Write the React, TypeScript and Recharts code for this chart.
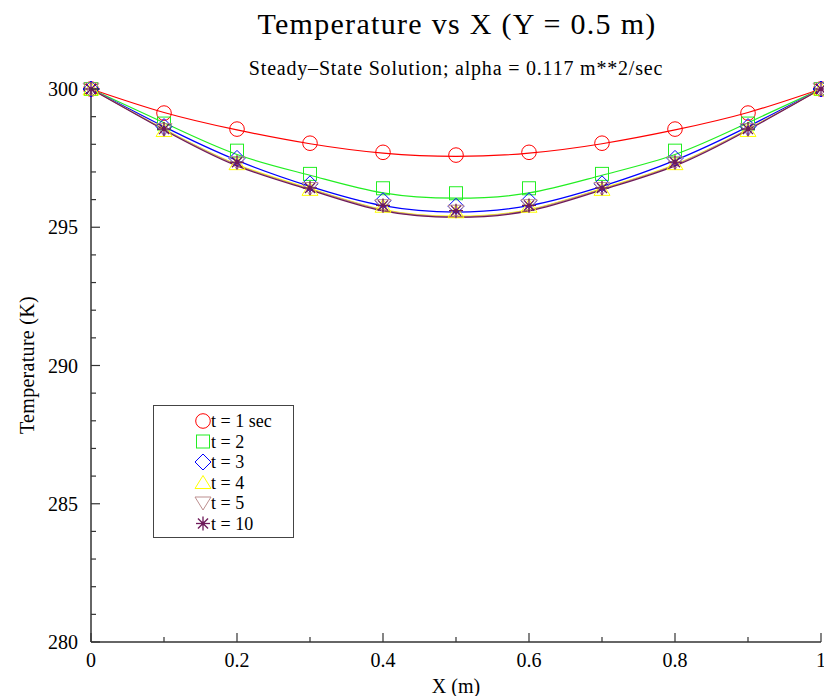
import React from 'react';
import { ComposedChart, Line, Scatter, XAxis, YAxis, Legend } from 'recharts';

const FONT = '"Liberation Serif", "Times New Roman", serif';

const xs = [0, 0.1, 0.2, 0.3, 0.4, 0.5, 0.6, 0.7, 0.8, 0.9, 1];
const seriesLabels = ['t = 1 sec', 't = 2', 't = 3', 't = 4', 't = 5', 't = 10'];

// marker (numerical) values
const markT1 = [300, 299.13, 298.55, 298.04, 297.71, 297.61, 297.71, 298.04, 298.55, 299.13, 300];
const markT2 = [300, 298.75, 297.77, 296.93, 296.41, 296.23, 296.41, 296.93, 297.77, 298.75, 300];
const markT3 = [300, 298.64, 297.49, 296.57, 295.96, 295.76, 295.96, 296.57, 297.49, 298.64, 300];
const markT4 = [300, 298.5, 297.3, 296.37, 295.76, 295.56, 295.76, 296.37, 297.3, 298.5, 300];
const markT5 = [300, 298.53, 297.33, 296.4, 295.78, 295.58, 295.78, 296.4, 297.33, 298.53, 300];
const markT10 = [300, 298.55, 297.35, 296.42, 295.79, 295.6, 295.79, 296.42, 297.35, 298.55, 300];

// curve values
const lineT1 = [300, 299.15, 298.52, 298.02, 297.68, 297.56, 297.68, 298.02, 298.52, 299.15, 300];
const lineT2 = [300, 298.78, 297.63, 296.88, 296.24, 296.05, 296.24, 296.88, 297.63, 298.78, 300];
const lineT3 = [300, 298.64, 297.42, 296.48, 295.78, 295.55, 295.78, 296.48, 297.42, 298.64, 300];
const lineT4 = [300, 298.55, 297.27, 296.4, 295.64, 295.4, 295.64, 296.4, 297.27, 298.55, 300];
const lineT5 = [300, 298.54, 297.25, 296.38, 295.62, 295.38, 295.62, 296.38, 297.25, 298.54, 300];
const lineT10 = [300, 298.52, 297.22, 296.35, 295.59, 295.36, 295.59, 296.35, 297.22, 298.52, 300];

const xTicks = [0, 0.1, 0.2, 0.3, 0.4, 0.5, 0.6, 0.7, 0.8, 0.9, 1];
const xMajorTicks = [0, 0.2, 0.4, 0.6, 0.8, 1];
const yTicks = [280, 281, 282, 283, 284, 285, 286, 287, 288, 289, 290, 291, 292, 293, 294, 295, 296, 297, 298, 299, 300];
const yMajorTicks = [280, 285, 290, 295, 300];

const colors = ['#ff0000', '#22ee22', '#0000ff', '#ffff00', '#bc8f8f', '#6e1a5a'];
const kinds = ['circle', 'square', 'diamond', 'triangle', 'itriangle', 'star'];
const markSets = [markT1, markT2, markT3, markT4, markT5, markT10];
const lineSets = [lineT1, lineT2, lineT3, lineT4, lineT5, lineT10];

const toPoints = (vals: number[]) => xs.map((x, i) => ({ x, y: vals[i] }));

const axisStroke = '#333';
const MAJOR = 9;
const MINOR = 5;

function Marker({ kind, cx, cy, color }: { kind: string; cx: number; cy: number; color: string }) {
  const sw = 1;
  switch (kind) {
    case 'circle':
      return <circle cx={cx} cy={cy} r={7.3} fill="none" stroke={color} strokeWidth={sw} />;
    case 'square':
      return <rect x={cx - 6.5} y={cy - 6.5} width={13} height={13} fill="none" stroke={color} strokeWidth={sw} />;
    case 'diamond':
      return (
        <polygon
          points={`${cx},${cy - 8} ${cx + 8},${cy} ${cx},${cy + 8} ${cx - 8},${cy}`}
          fill="none"
          stroke={color}
          strokeWidth={sw}
        />
      );
    case 'triangle':
      return (
        <polygon
          points={`${cx},${cy - 7} ${cx + 8},${cy + 6} ${cx - 8},${cy + 6}`}
          fill="none"
          stroke={color}
          strokeWidth={sw}
        />
      );
    case 'itriangle':
      return (
        <polygon
          points={`${cx},${cy + 7} ${cx + 8},${cy - 6} ${cx - 8},${cy - 6}`}
          fill="none"
          stroke={color}
          strokeWidth={sw}
        />
      );
    default: {
      const r = 7;
      const d = r * 0.72;
      return (
        <g stroke={color} strokeWidth={1.3}>
          <line x1={cx - r} y1={cy} x2={cx + r} y2={cy} />
          <line x1={cx} y1={cy - r} x2={cx} y2={cy + r} />
          <line x1={cx - d} y1={cy - d} x2={cx + d} y2={cy + d} />
          <line x1={cx - d} y1={cy + d} x2={cx + d} y2={cy - d} />
          <circle cx={cx} cy={cy} r={2} fill={color} stroke="none" />
        </g>
      );
    }
  }
}

function LegendBox() {
  return (
    <svg width={141} height={133} style={{ display: 'block' }}>
      <rect x={0.5} y={0.5} width={140} height={132} fill="#fff" stroke="#444" strokeWidth={1} />
      {seriesLabels.map((lab, i) => {
        const cy = 16 + i * 20.5;
        return (
          <g key={lab}>
            <Marker kind={kinds[i]} cx={50} cy={cy} color={colors[i]} />
            <text x={58} y={cy} dominantBaseline="central" fontFamily={FONT} fontSize={18} fill="#000">
              {lab}
            </text>
          </g>
        );
      })}
    </svg>
  );
}

const BottomTick = (p: any) => {
  const { x, y, payload } = p;
  const major = xMajorTicks.includes(payload.value);
  return (
    <g>
      <line x1={x} y1={y} x2={x} y2={y - (major ? MAJOR : MINOR)} stroke={axisStroke} strokeWidth={1.2} />
      {major && (
        <text x={x} y={y + 25} textAnchor="middle" fontSize={20} fontFamily={FONT} fill="#000">
          {String(payload.value)}
        </text>
      )}
    </g>
  );
};

const TopTick = (p: any) => {
  const { x, y, payload } = p;
  const major = xMajorTicks.includes(payload.value);
  return <line x1={x} y1={y} x2={x} y2={y + (major ? MAJOR : MINOR)} stroke={axisStroke} strokeWidth={1.2} />;
};

const LeftTick = (p: any) => {
  const { x, y, payload } = p;
  const major = yMajorTicks.includes(payload.value);
  return (
    <g>
      <line x1={x} y1={y} x2={x + (major ? MAJOR : MINOR)} y2={y} stroke={axisStroke} strokeWidth={1.2} />
      {major && (
        <text x={x - 13} y={y + 7} textAnchor="end" fontSize={20} fontFamily={FONT} fill="#000">
          {String(payload.value)}
        </text>
      )}
    </g>
  );
};

const RightTick = (p: any) => {
  const { x, y, payload } = p;
  const major = yMajorTicks.includes(payload.value);
  return <line x1={x} y1={y} x2={x - (major ? MAJOR : MINOR)} y2={y} stroke={axisStroke} strokeWidth={1.2} />;
};

export default function App() {
  return (
    <div style={{ position: 'absolute', left: 0, top: 0, width: 824, height: 696, background: '#fff', fontFamily: FONT }}>
      <ComposedChart width={824} height={696} margin={{ top: 89, right: 3, bottom: 0, left: 0 }}>
        <XAxis
          dataKey="x"
          type="number"
          domain={[0, 1]}
          ticks={xTicks}
          interval={0}
          height={54}
          tickSize={0}
          tickMargin={0}
          tickLine={false}
          tick={BottomTick}
          axisLine={{ stroke: axisStroke, strokeWidth: 1.5 }}
        />
        <XAxis
          xAxisId="t"
          orientation="top"
          dataKey="x"
          type="number"
          domain={[0, 1]}
          ticks={xTicks}
          interval={0}
          height={0}
          tickSize={0}
          tickMargin={0}
          tickLine={false}
          tick={TopTick}
          axisLine={{ stroke: axisStroke, strokeWidth: 1.5 }}
        />
        <YAxis
          type="number"
          domain={[280, 300]}
          ticks={yTicks}
          interval={0}
          width={91}
          tickSize={0}
          tickMargin={0}
          tickLine={false}
          tick={LeftTick}
          axisLine={{ stroke: axisStroke, strokeWidth: 1.5 }}
        />
        <YAxis
          yAxisId="r"
          orientation="right"
          type="number"
          domain={[280, 300]}
          ticks={yTicks}
          interval={0}
          width={0}
          tickSize={0}
          tickMargin={0}
          tickLine={false}
          tick={RightTick}
          axisLine={{ stroke: axisStroke, strokeWidth: 1.5 }}
        />
        {lineSets.map((vals, i) => (
          <Line
            key={'l' + i}
            data={toPoints(vals)}
            dataKey="y"
            type="natural"
            stroke={colors[i]}
            strokeWidth={1.2}
            dot={false}
            activeDot={false}
            isAnimationActive={false}
          />
        ))}
        {markSets.map((vals, i) => (
          <Scatter
            key={'s' + i}
            data={toPoints(vals)}
            dataKey="y"
            isAnimationActive={false}
            shape={(p: any) => <Marker kind={kinds[i]} cx={p.cx} cy={p.cy} color={colors[i]} />}
          />
        ))}
        <Legend
          layout="vertical"
          align="center"
          verticalAlign="middle"
          wrapperStyle={{ left: 153, top: 405, width: 141, height: 133 }}
          content={() => <LegendBox />}
        />
      </ComposedChart>
      <div
        style={{
          position: 'absolute',
          left: 457,
          top: 24,
          transform: 'translate(-50%, -50%)',
          fontSize: 30,
          letterSpacing: 1.3,
          lineHeight: 1,
          whiteSpace: 'nowrap',
          color: '#000',
        }}
      >
        Temperature vs X (Y = 0.5 m)
      </div>
      <div
        style={{
          position: 'absolute',
          left: 456,
          top: 68,
          transform: 'translate(-50%, -50%)',
          fontSize: 20,
          letterSpacing: 0.8,
          lineHeight: 1,
          whiteSpace: 'nowrap',
          color: '#000',
        }}
      >
        Steady–State Solution; alpha = 0.117 m**2/sec
      </div>
      <div
        style={{
          position: 'absolute',
          left: 456,
          top: 686,
          transform: 'translate(-50%, -50%)',
          fontSize: 20,
          lineHeight: 1,
          whiteSpace: 'nowrap',
          color: '#000',
        }}
      >
        X (m)
      </div>
      <div
        style={{
          position: 'absolute',
          left: 27,
          top: 365,
          transform: 'translate(-50%, -50%) rotate(-90deg)',
          fontSize: 20,
          letterSpacing: 0.3,
          lineHeight: 1,
          whiteSpace: 'nowrap',
          color: '#000',
        }}
      >
        Temperature (K)
      </div>
    </div>
  );
}
